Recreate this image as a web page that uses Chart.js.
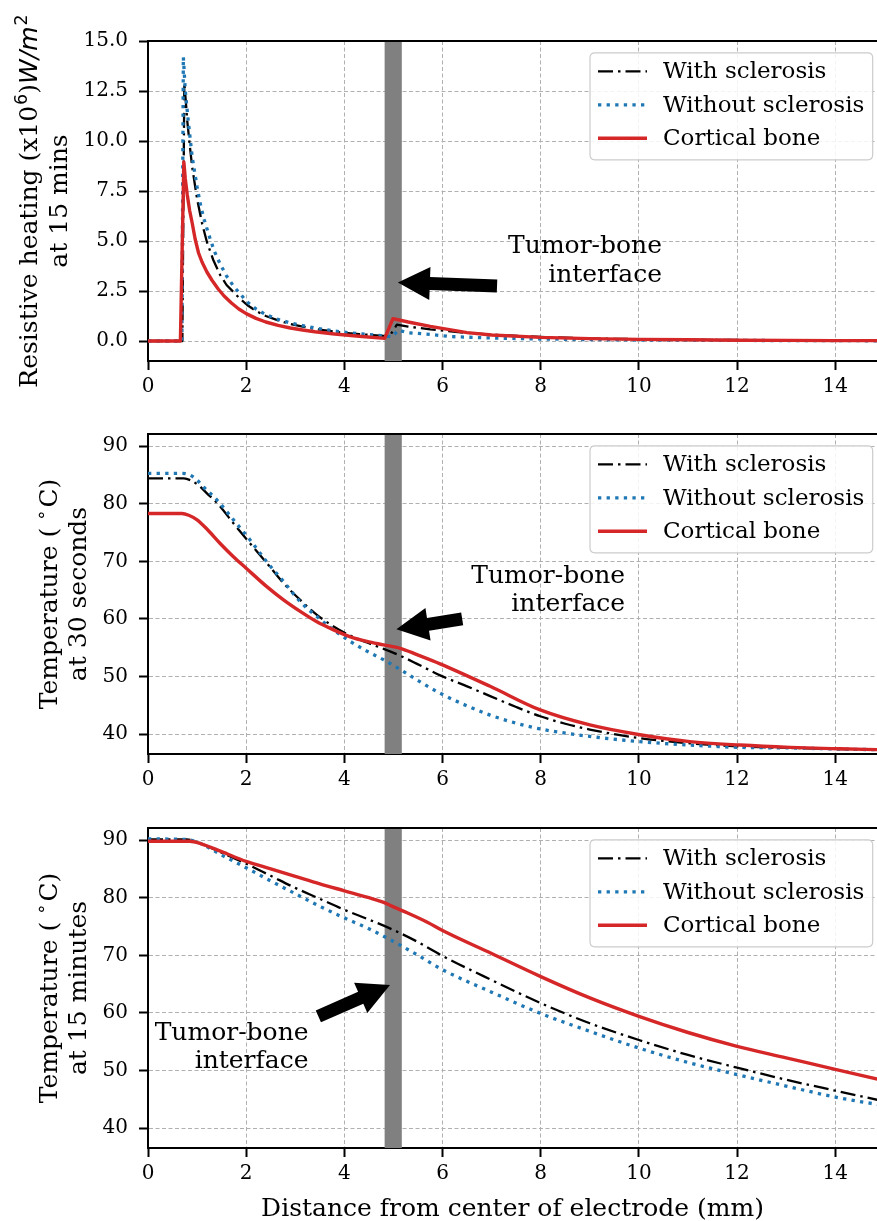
<!DOCTYPE html>
<html><head><meta charset="utf-8">
<script src="https://cdn.jsdelivr.net/npm/chart.js@4.4.1/dist/chart.umd.min.js"></script>
<style>
html,body{margin:0;padding:0;background:#fff;}
#wrap{position:relative;width:877px;height:1221px;overflow:hidden;background:#fff;}
canvas{position:absolute;left:0;}
</style></head><body>
<div id="wrap">
<canvas id="c1" width="877" height="405" style="top:0px;width:877px;height:405px"></canvas>
<canvas id="c2" width="877" height="395" style="top:405px;width:877px;height:395px"></canvas>
<canvas id="c3" width="877" height="421" style="top:800px;width:877px;height:421px"></canvas>
</div>
<script>
// ---------------- DATA ----------------
const seriesNames = ['With sclerosis', 'Without sclerosis', 'Cortical bone'];
const xTicks = [0, 2, 4, 6, 8, 10, 12, 14];
const heatTicks = [0, 2.5, 5, 7.5, 10, 12.5, 15];
const heatTickLabels = ['0.0', '2.5', '5.0', '7.5', '10.0', '12.5', '15.0'];
const tempTicks = [40, 50, 60, 70, 80, 90];
const tempTickLabels = ['40', '50', '60', '70', '80', '90'];
const interfaceBand = [4.82, 5.17];

// Panel 1: resistive heating at 15 mins
const heatWithX = [0, 0.7, 0.74, 0.77, 0.8, 0.85, 0.9, 1.0, 1.1, 1.2, 1.33, 1.47, 1.6, 1.74, 1.88, 2.02, 2.2, 2.4, 2.65, 2.9, 3.15, 3.4, 3.78, 4.3, 4.92, 5.07, 5.3, 5.75, 6.43, 7.0, 8.0, 9.0, 10.0, 11.0, 12.0, 13.0, 14.0, 14.86];
const heatWithY = [0, 0, 12.9, 12.0, 11.0, 9.8, 8.7, 7.1, 5.9, 4.95, 4.05, 3.3, 2.8, 2.45, 2.1, 1.8, 1.5, 1.25, 1.03, 0.85, 0.72, 0.6, 0.47, 0.34, 0.24, 0.82, 0.72, 0.58, 0.42, 0.32, 0.2, 0.13, 0.09, 0.06, 0.05, 0.04, 0.03, 0.02];
const heatWithoutX = [0, 0.69, 0.72, 0.76, 0.82, 0.9, 1.0, 1.07, 1.14, 1.24, 1.35, 1.47, 1.6, 1.74, 1.88, 2.02, 2.2, 2.4, 2.65, 2.9, 3.15, 3.4, 3.78, 4.3, 4.82, 4.97, 5.1, 5.27, 5.75, 6.16, 7.0, 8.0, 9.0, 10.0, 11.0, 12.0, 13.0, 14.0, 14.86];
const heatWithoutY = [0, 0, 14.2, 12.5, 11.0, 9.2, 7.7, 6.8, 6.1, 5.3, 4.5, 3.85, 3.25, 2.75, 2.35, 1.95, 1.6, 1.32, 1.08, 0.9, 0.77, 0.65, 0.5, 0.36, 0.26, 0.2, 0.55, 0.42, 0.33, 0.22, 0.15, 0.1, 0.07, 0.05, 0.04, 0.03, 0.02, 0.02, 0.01];
const heatCorticalX = [0, 0.66, 0.73, 0.76, 0.8, 0.85, 0.9, 0.96, 1.03, 1.1, 1.2, 1.3, 1.43, 1.55, 1.7, 1.85, 2.0, 2.2, 2.4, 2.65, 2.9, 3.15, 3.4, 3.8, 4.3, 4.82, 4.99, 5.3, 5.75, 6.5, 7.0, 8.0, 9.0, 10.0, 11.0, 12.0, 13.0, 14.0, 14.86];
const heatCorticalY = [0, 0, 8.95, 8.1, 7.3, 6.5, 5.9, 5.1, 4.4, 3.95, 3.45, 3.05, 2.6, 2.25, 1.9, 1.6, 1.37, 1.13, 0.95, 0.78, 0.65, 0.55, 0.46, 0.35, 0.24, 0.13, 1.12, 0.95, 0.73, 0.42, 0.3, 0.18, 0.12, 0.08, 0.06, 0.04, 0.03, 0.02, 0.02];

// Panel 2: temperature at 30 seconds
const t30WithX = [0, 0.73, 0.86, 1.03, 1.2, 1.41, 1.74, 2.08, 2.42, 2.76, 3.1, 3.44, 3.78, 4.12, 4.46, 4.8, 5.14, 5.48, 5.95, 6.5, 6.97, 7.5, 7.99, 8.5, 9.0, 10.02, 11.04, 12.06, 13.08, 14.1, 14.86];
const t30WithY = [84.4, 84.4, 84.1, 83.2, 81.8, 80.1, 76.6, 73.1, 69.7, 66.2, 63.3, 60.7, 58.7, 57.1, 55.9, 54.8, 53.6, 52.2, 50.2, 48.3, 46.6, 44.7, 43.1, 41.8, 40.8, 39.3, 38.4, 37.85, 37.6, 37.4, 37.3];
const t30WithoutX = [0, 0.7, 0.85, 1.0, 1.13, 1.41, 1.74, 2.08, 2.42, 2.76, 3.1, 3.44, 3.78, 4.12, 4.46, 4.8, 5.14, 5.48, 5.95, 6.5, 6.97, 7.5, 7.99, 9.0, 10.02, 11.04, 12.06, 13.08, 14.1, 14.86];
const t30WithoutY = [85.25, 85.25, 85.0, 84.1, 82.9, 80.6, 77.2, 73.7, 69.9, 66.5, 63.0, 60.4, 58.1, 56.1, 54.4, 52.9, 51.2, 49.4, 47.1, 44.9, 43.3, 41.9, 40.9, 39.6, 38.7, 38.1, 37.7, 37.6, 37.4, 37.3];
const t30CorticalX = [0, 0.69, 0.83, 1.0, 1.2, 1.47, 1.74, 2.0, 2.42, 2.76, 3.1, 3.44, 3.78, 4.12, 4.46, 4.8, 5.14, 5.48, 5.95, 6.97, 7.99, 9.0, 10.02, 11.04, 12.06, 13.08, 14.1, 14.86];
const t30CorticalY = [78.3, 78.3, 78.0, 77.2, 75.6, 73.1, 70.8, 68.8, 65.6, 63.3, 61.3, 59.5, 58.1, 56.9, 56.1, 55.5, 54.9, 53.8, 52.2, 48.3, 44.2, 41.6, 39.9, 38.7, 38.1, 37.7, 37.45, 37.3];

// Panel 3: temperature at 15 minutes
const t15WithX = [0, 0.79, 1.07, 1.5, 2.0, 2.5, 3.0, 3.5, 4.0, 4.5, 5.0, 5.5, 6.0, 7.0, 8.0, 9.0, 10.0, 11.0, 12.0, 13.0, 14.0, 14.86];
const t15WithY = [90.1, 90.1, 89.4, 87.8, 85.9, 83.8, 81.7, 79.8, 77.9, 76.2, 74.4, 72.3, 69.9, 65.7, 61.7, 58.2, 55.3, 52.7, 50.5, 48.4, 46.5, 44.9];
const t15WithoutX = [0, 0.79, 1.07, 1.5, 2.0, 2.5, 3.0, 3.5, 4.0, 4.5, 5.0, 5.5, 6.0, 7.0, 8.0, 9.0, 10.0, 11.0, 12.0, 13.0, 14.0, 14.86];
const t15WithoutY = [90.2, 90.1, 89.4, 87.4, 85.2, 82.9, 80.7, 78.5, 76.5, 74.6, 72.4, 70.0, 67.5, 63.6, 59.9, 56.8, 53.9, 51.4, 49.3, 47.3, 45.4, 44.1];
const t15CorticalX = [0, 0.85, 1.07, 1.5, 2.0, 2.5, 3.0, 3.5, 4.0, 4.5, 4.8, 5.0, 5.3, 5.7, 6.0, 7.0, 8.0, 9.0, 10.0, 11.0, 12.0, 13.0, 14.0, 14.86];
const t15CorticalY = [89.8, 89.8, 89.4, 88.0, 86.3, 85.0, 83.7, 82.4, 81.2, 80.0, 79.2, 78.4, 77.3, 75.7, 74.3, 70.3, 66.3, 62.6, 59.4, 56.6, 54.2, 52.2, 50.2, 48.5];

// ---------------- STYLE ----------------
const SERIF = "'DejaVu Serif', serif";
const SANS = "'DejaVu Sans', sans-serif";
Chart.defaults.font.family = SERIF;
Chart.defaults.color = '#000';

const seriesStyles = [
  {color: '#000000', width: 2.3, dash: [15, 5, 2.5, 5], order: 3},
  {color: '#1f77b4', width: 3.3, dash: [3.3, 5.3], order: 2},
  {color: '#d62728', width: 3.4, dash: [], order: 1}
];

function drawRich(ctx, segs, bx, cy) {
  ctx.save();
  ctx.translate(bx, cy);
  ctx.rotate(-Math.PI / 2);
  let total = 0;
  for (const s of segs) { ctx.font = s.font; s.w = ctx.measureText(s.t).width + (s.pre || 0) + (s.post || 0); total += s.w; }
  let cx = -total / 2;
  ctx.textBaseline = 'alphabetic'; ctx.textAlign = 'left'; ctx.fillStyle = '#000';
  for (const s of segs) { ctx.font = s.font; ctx.fillText(s.t, cx + (s.pre || 0), -(s.dy || 0)); cx += s.w; }
  ctx.restore();
}

function drawArrow(ctx, x1, y1, x2, y2, w, hw, hl) {
  const dx = x2 - x1, dy = y2 - y1, L = Math.hypot(dx, dy), ux = dx / L, uy = dy / L, nx = -uy, ny = ux;
  const bx = x2 - ux * hl, by = y2 - uy * hl;
  ctx.beginPath();
  ctx.moveTo(x1 + nx * w / 2, y1 + ny * w / 2);
  ctx.lineTo(bx + nx * w / 2, by + ny * w / 2);
  ctx.lineTo(bx + nx * hw / 2, by + ny * hw / 2);
  ctx.lineTo(x2, y2);
  ctx.lineTo(bx - nx * hw / 2, by - ny * hw / 2);
  ctx.lineTo(bx - nx * w / 2, by - ny * w / 2);
  ctx.lineTo(x1 - nx * w / 2, y1 - ny * w / 2);
  ctx.closePath();
  ctx.fill();
}

function roundRect(ctx, x, y, w, h, r) {
  ctx.beginPath();
  ctx.moveTo(x + r, y);
  ctx.lineTo(x + w - r, y); ctx.quadraticCurveTo(x + w, y, x + w, y + r);
  ctx.lineTo(x + w, y + h - r); ctx.quadraticCurveTo(x + w, y + h, x + w - r, y + h);
  ctx.lineTo(x + r, y + h); ctx.quadraticCurveTo(x, y + h, x, y + h - r);
  ctx.lineTo(x, y + r); ctx.quadraticCurveTo(x, y, x + r, y);
  ctx.closePath();
}

const decor = {
  id: 'decor',
  beforeDatasetsDraw(chart, args, o) {
    const {ctx, chartArea: a, scales: {x}} = chart;
    const x0 = x.getPixelForValue(interfaceBand[0]), x1 = x.getPixelForValue(interfaceBand[1]);
    ctx.save();
    ctx.fillStyle = '#808080';
    ctx.fillRect(x0, a.top, x1 - x0, a.bottom - a.top);
    ctx.restore();
  },
  afterDatasetsDraw(chart, args, o) {
    const {ctx, scales: {x, y}} = chart;
    ctx.save();
    ctx.fillStyle = '#000';
    drawArrow(ctx, x.getPixelForValue(o.arrowTail[0]), y.getPixelForValue(o.arrowTail[1]),
      x.getPixelForValue(o.arrowTip[0]), y.getPixelForValue(o.arrowTip[1]), 13, 33, 32);
    ctx.font = '25px ' + SERIF;
    ctx.textAlign = 'right'; ctx.textBaseline = 'alphabetic';
    ctx.fillText('Tumor-bone', x.getPixelForValue(o.noteX), y.getPixelForValue(o.noteY[0]));
    ctx.fillText('interface', x.getPixelForValue(o.noteX), y.getPixelForValue(o.noteY[1]));
    ctx.restore();
  },
  afterDraw(chart, args, o) {
    const {ctx, chartArea: a} = chart;
    ctx.save();
    // top spine
    ctx.strokeStyle = '#000'; ctx.lineWidth = 2;
    ctx.beginPath(); ctx.moveTo(a.left - 1, a.top); ctx.lineTo(a.right + 1, a.top); ctx.stroke();
    // legend
    const bR = a.right - 4.3, bL = bR - 282.7, bT = a.top + 11.8, bH = 107;
    roundRect(ctx, bL, bT, bR - bL, bH, 5);
    ctx.fillStyle = 'rgba(255,255,255,0.85)'; ctx.fill();
    ctx.strokeStyle = '#cccccc'; ctx.lineWidth = 1.2; ctx.stroke();
    const rows = [18.6, 52, 85.4];
    ctx.font = '23px ' + SERIF; ctx.textAlign = 'left'; ctx.textBaseline = 'middle'; ctx.fillStyle = '#000';
    seriesNames.forEach((name, i) => {
      const st = seriesStyles[i], yy = bT + rows[i];
      ctx.save();
      ctx.strokeStyle = st.color; ctx.lineWidth = st.width; ctx.setLineDash(st.dash); ctx.lineCap = 'butt';
      ctx.beginPath(); ctx.moveTo(bL + 8, yy); ctx.lineTo(bL + 57, yy); ctx.stroke();
      ctx.restore();
      ctx.fillText(name, bL + 73, yy + 1);
    });
    // y-axis label (two lines)
    const cy = (a.top + a.bottom) / 2;
    drawRich(ctx, o.ylabel1, o.ylabelX[0], cy);
    drawRich(ctx, o.ylabel2, o.ylabelX[1], cy);
    // x-axis label
    if (o.xlabel) {
      ctx.font = '25px ' + SERIF; ctx.textAlign = 'center'; ctx.textBaseline = 'alphabetic'; ctx.fillStyle = '#000';
      ctx.fillText(o.xlabel, (a.left + a.right) / 2, a.bottom + 68);
    }
    ctx.restore();
  }
};

const F25 = '25px ' + SERIF;
const degSegs = () => [{t: 'Temperature (', font: F25}, {t: '\u2218', font: '18px ' + SANS, dy: 10, pre: 7, post: 2}, {t: 'C)', font: F25}];
const panels = [
  {id: 'c1', padTop: 41, xH: 44, yMin: -1, yMax: 15, yTicks: heatTicks, yTickLabels: heatTickLabels, tension: 0,
   series: [[heatWithX, heatWithY], [heatWithoutX, heatWithoutY], [heatCorticalX, heatCorticalY]],
   deco: {
     ylabel1: [{t: 'Resistive heating (x10', font: F25}, {t: '6', font: '17.5px ' + SANS, dy: 10, pre: 1}, {t: ')', font: F25},
               {t: 'W/m', font: 'italic 25px ' + SANS}, {t: '2', font: '17.5px ' + SANS, dy: 10, pre: 1}],
     ylabel2: [{t: 'at 15 mins', font: F25}], ylabelX: [37, 67],
     arrowTail: [7.11, 2.75], arrowTip: [5.09, 2.93], noteX: 10.47, noteY: [4.42, 2.95], xlabel: null}},
  {id: 'c2', padTop: 29, xH: 46, yMin: 36.55, yMax: 92.1, yTicks: tempTicks, yTickLabels: tempTickLabels, tension: 'mono',
   series: [[t30WithX, t30WithY], [t30WithoutX, t30WithoutY], [t30CorticalX, t30CorticalY]],
   deco: {
     ylabel1: degSegs(),
     ylabel2: [{t: 'at 30 seconds', font: F25}], ylabelX: [57, 86],
     arrowTail: [6.4, 60.0], arrowTip: [5.06, 58.2], noteX: 9.72, noteY: [66.29, 61.38], xlabel: null}},
  {id: 'c3', padTop: 28, xH: 73, yMin: 36.55, yMax: 92.1, yTicks: tempTicks, yTickLabels: tempTickLabels, tension: 'mono',
   series: [[t15WithX, t15WithY], [t15WithoutX, t15WithoutY], [t15CorticalX, t15CorticalY]],
   deco: {
     ylabel1: degSegs(),
     ylabel2: [{t: 'at 15 minutes', font: F25}], ylabelX: [57, 86],
     arrowTail: [3.47, 59.4], arrowTip: [4.93, 64.85], noteX: 3.27, noteY: [55.31, 50.4],
     xlabel: 'Distance from center of electrode (mm)'}}
];

panels.forEach(p => {
  new Chart(document.getElementById(p.id), {
    type: 'line',
    data: {
      datasets: p.series.map((s, i) => ({
        label: seriesNames[i],
        data: s[0].map((v, k) => ({x: v, y: s[1][k]})),
        borderColor: seriesStyles[i].color,
        borderWidth: seriesStyles[i].width,
        borderDash: seriesStyles[i].dash,
        order: seriesStyles[i].order,
        pointRadius: 0, fill: false, borderCapStyle: 'butt', borderJoinStyle: 'round',
        tension: 0,
        cubicInterpolationMode: p.tension === 'mono' ? 'monotone' : 'default'
      }))
    },
    options: {
      responsive: false, animation: false, devicePixelRatio: 1,
      layout: {padding: {top: p.padTop, left: 0, right: 0, bottom: 0}},
      plugins: {legend: {display: false}, tooltip: {enabled: false}, decor: p.deco},
      scales: {
        x: {
          type: 'linear', min: 0, max: 14.85,
          afterBuildTicks: s => { s.ticks = xTicks.map(v => ({value: v})); },
          afterFit: s => { s.height = p.xH; },
          ticks: {font: {size: 20}, color: '#000', padding: 5, maxRotation: 0, autoSkip: false,
                  callback: (v, i) => String(xTicks[i])},
          grid: {color: '#b0b0b0', lineWidth: 1, tickLength: 9, tickColor: '#000', tickWidth: 2},
          border: {display: true, color: '#000', width: 2, dash: [4, 2.5]}
        },
        y: {
          type: 'linear', min: p.yMin, max: p.yMax,
          afterBuildTicks: s => { s.ticks = p.yTicks.map(v => ({value: v})); },
          afterFit: s => { s.width = 148; },
          ticks: {font: {size: 20}, color: '#000', padding: 11, autoSkip: false,
                  callback: (v, i) => p.yTickLabels[i]},
          grid: {color: '#b0b0b0', lineWidth: 1, tickLength: 9, tickColor: '#000', tickWidth: 2},
          border: {display: true, color: '#000', width: 2, dash: [4, 2.5]}
        }
      }
    },
    plugins: [decor]
  });
});
</script>
</body></html>
